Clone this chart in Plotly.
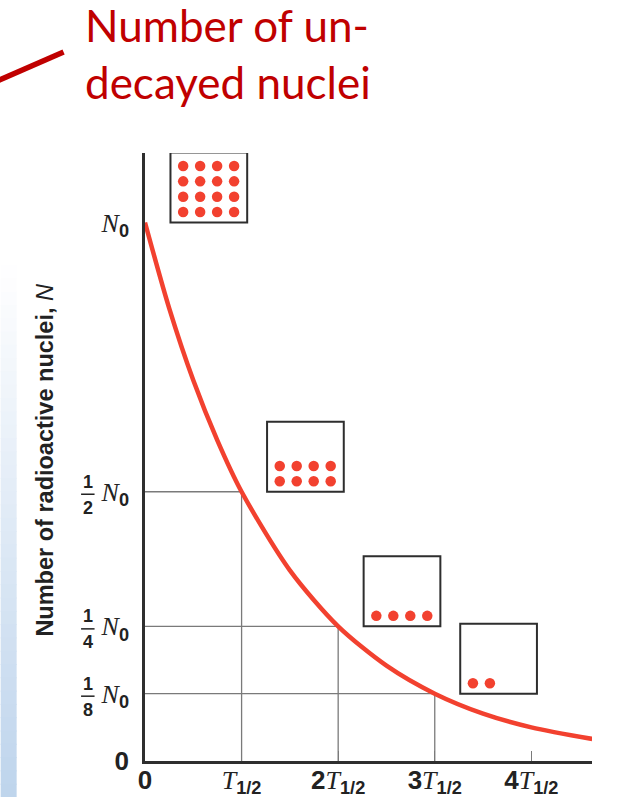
import plotly.graph_objects as go

# ---------------- data ----------------
# time in units of the half-life T1/2, N as fraction of N0
curve_t = [0, 0.25, 0.5, 0.75, 1.0, 1.5, 2.0, 2.5, 3.0, 3.5, 4.0, 4.63]
curve_n = [1.0, 0.841, 0.707, 0.595, 0.5, 0.354, 0.25, 0.177, 0.125, 0.088, 0.0625, 0.041]

halflife_t = [1, 2, 3]
halflife_n = [0.5, 0.25, 0.125]

box_t = [0, 1, 2, 3]
box_n = [1.0, 0.5, 0.25, 0.125]
box_counts = [16, 8, 4, 2]

x_tickvals = [0, 1, 2, 3, 4]
x_prefix = ["0", "", "2", "3", "4"]
y_tickvals = [0, 0.125, 0.25, 0.5, 1.0]
y_fracs = ["", "8", "4", "2", ""]

title_text = "Number of un-<br>decayed nuclei"
ytitle_text = "<b>Number of radioactive nuclei, </b><i>N</i>"

# ---------------- geometry ----------------
W, H = 644, 797
L, R, T, B = 144.5, 592.0, 153.0, 761.0
XMAX, YMAX = 4.628, 1.129
PX_X = (R - L) / XMAX     # pixels per T1/2
PX_Y = (B - T) / YMAX     # pixels per N0

def pxx(px):
    return (px - L) / (R - L)

def pyy(py):
    return (B - py) / (B - T)

RED = "#F2412F"
DARK = "#2E2E2E"
GRID = "#7A7A7A"
SANS = "Liberation Sans"
SERIF = "Liberation Serif"

fig = go.Figure()

# grid segments from each half-life point to the axes
gx, gy = [], []
for t, n in zip(halflife_t, halflife_n):
    gx += [0, t, t, None]
    gy += [n, n, 0, None]
fig.add_trace(go.Scatter(x=gx, y=gy, mode="lines",
                         line=dict(color=GRID, width=1.3),
                         hoverinfo="skip", showlegend=False))

# decay curve
fig.add_trace(go.Scatter(x=curve_t, y=curve_n, mode="lines",
                         line=dict(color=RED, width=4.5, shape="spline", smoothing=0.8),
                         hoverinfo="skip", showlegend=False, cliponaxis=False))

# boxes with dots
bw = 76.8 / PX_X
bh = 70.0 / PX_Y
left_off = 25.5 / PX_X
dx, dy = [], []
shapes = []
for t, n, c in zip(box_t, box_n, box_counts):
    x0 = t + left_off
    y0 = n
    shapes.append(dict(type="rect", xref="x", yref="y", x0=x0, x1=x0 + bw, y0=y0, y1=y0 + bh,
                       line=dict(color=DARK, width=2), fillcolor="rgba(0,0,0,0)",
                       layer="above"))
    for i in range(c):
        col = i % 4
        row = i // 4
        dx.append(x0 + (12.7 + 17.0 * col) / PX_X)
        dy.append(y0 + (10.5 + 15.3 * row) / PX_Y)
fig.add_trace(go.Scatter(x=dx, y=dy, mode="markers",
                         marker=dict(color=RED, size=10.5, line=dict(width=0)),
                         hoverinfo="skip", showlegend=False, cliponaxis=False))

# tick labels
def sans(s):
    return "<b><span style='font-family:%s'>%s</span></b>" % (SANS, s)

x_ticktext = []
for v, p in zip(x_tickvals, x_prefix):
    if v == 0:
        x_ticktext.append(sans("0"))
    else:
        x_ticktext.append((sans(p) if p else "") + "<i>T</i><sub>" + sans("1/2") + "</sub>")

y_ticktext = []
for v in y_tickvals:
    if v == 0:
        y_ticktext.append(sans("0"))
    else:
        y_ticktext.append("<i>N</i><sub>" + sans("0") + "</sub>")

fig.update_xaxes(range=[0, XMAX], showline=True, linecolor=DARK, linewidth=2.6,
                 showgrid=False, zeroline=False, tickmode="array", automargin=False,
                 tickvals=x_tickvals, ticktext=x_ticktext,
                 ticks="inside", ticklen=10, tickwidth=1.3, tickcolor=GRID,
                 ticklabelstandoff=-6,
                 tickfont=dict(family=SERIF, size=26, color="#222"))
fig.update_yaxes(range=[0, YMAX], showline=True, linecolor=DARK, linewidth=2.6,
                 showgrid=False, zeroline=False, tickmode="array", automargin=False,
                 tickvals=y_tickvals, ticktext=y_ticktext, ticks="",
                 ticklabelstandoff=8,
                 tickfont=dict(family=SERIF, size=26, color="#222"))

annotations = []
# stacked fractions in front of the N0 labels
for v, d in zip(y_tickvals, y_fracs):
    if not d:
        continue
    annotations.append(dict(x=pxx(87), y=v, xref="paper", yref="y", yshift=10,
                            xanchor="center", yanchor="middle",
                            text="1", showarrow=False,
                            font=dict(family=SANS, size=18, color="#222", weight="bold")))
    annotations.append(dict(x=pxx(87), y=v, xref="paper", yref="y", yshift=-16,
                            xanchor="center", yanchor="middle",
                            text=d, showarrow=False,
                            font=dict(family=SANS, size=18, color="#222", weight="bold")))
    shapes.append(dict(type="line", xref="paper", yref="y", ysizemode="pixel",
                       yanchor=v, x0=pxx(80.5), x1=pxx(94), y0=-2.5, y1=-2.5,
                       line=dict(color="#222", width=1.5)))

# y-axis title
annotations.append(dict(x=pxx(44), y=pyy(460), xref="paper", yref="paper",
                        xanchor="center", yanchor="middle",
                        text=ytitle_text, textangle=-90, showarrow=False,
                        font=dict(family=SANS, size=23.5, color="#222")))
# slide title
annotations.append(dict(x=pxx(82), y=pyy(-3), xref="paper", yref="paper",
                        xanchor="left", yanchor="top", align="left",
                        text=title_text, showarrow=False,
                        font=dict(family="Lato", size=44, color="#C00000")))

# decorative red connector line at top left
shapes.append(dict(type="line", xref="paper", yref="paper",
                   x0=pxx(-6), y0=pyy(82), x1=pxx(63), y1=pyy(52),
                   line=dict(color="#C00000", width=5.5), layer="above"))

# light blue gradient strip on the left edge
n_steps = 40
top_py, bot_py = 265.0, 797.0
c0 = (255, 255, 255)
c1 = (190, 212, 236)
for i in range(n_steps):
    f = (i + 0.5) / n_steps
    col = tuple(int(round(c0[k] + (c1[k] - c0[k]) * f)) for k in range(3))
    ya = top_py + (bot_py - top_py) * i / n_steps
    yb = top_py + (bot_py - top_py) * (i + 1) / n_steps + 1
    shapes.append(dict(type="rect", xref="paper", yref="paper",
                       x0=pxx(0), x1=pxx(16), y0=pyy(yb), y1=pyy(ya),
                       line=dict(width=0), fillcolor="rgb(%d,%d,%d)" % col, layer="below"))

fig.update_layout(width=W, height=H,
                  margin=dict(l=L, r=W - R, t=T, b=H - B, pad=0, autoexpand=False),
                  paper_bgcolor="white", plot_bgcolor="white",
                  annotations=annotations, shapes=shapes, showlegend=False)

fig.write_html("out.html", config={"displayModeBar": False},
               post_script="document.body.style.margin='0';document.body.style.overflow='hidden';")
